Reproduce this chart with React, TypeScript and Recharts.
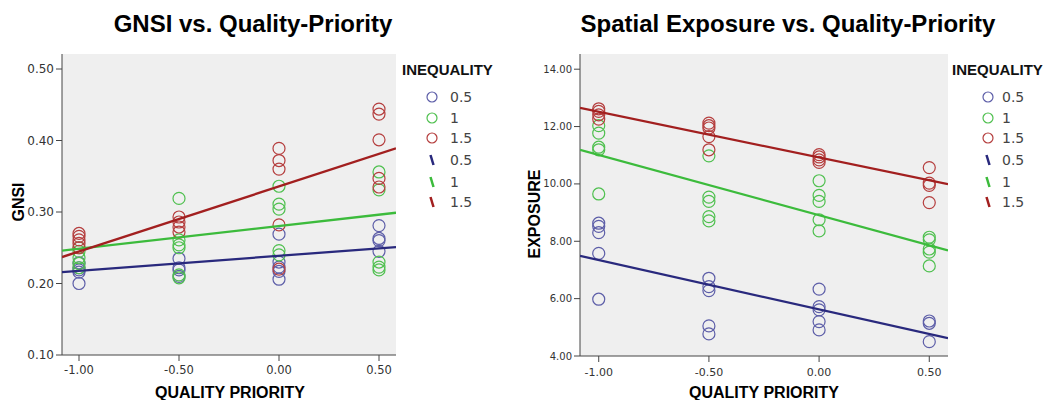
import React from 'react';
import { ScatterChart, Scatter, XAxis, YAxis, CartesianGrid, ReferenceArea } from 'recharts';

// x positions (quality priority levels) and inequality groups
const qualityLevels = [-1, -0.5, 0, 0.5];
const inequalityLabels = ['0.5', '1', '1.5'];
const qualityTicks = [-1, -0.5, 0, 0.5];
const gnsiTicks = [0.1, 0.2, 0.3, 0.4, 0.5];
const exposureTicks = [4, 6, 8, 10, 12, 14];

// GNSI observations, one inner list per quality level
const gnsiLow = [
  [0.229, 0.222, 0.219, 0.216, 0.2],
  [0.235, 0.222, 0.219, 0.21],
  [0.269, 0.23, 0.223, 0.217, 0.206],
  [0.281, 0.263, 0.26, 0.245],
];
const gnsiMid = [
  [0.25, 0.245, 0.236, 0.228, 0.222],
  [0.319, 0.261, 0.254, 0.25, 0.212, 0.208],
  [0.336, 0.311, 0.304, 0.246, 0.24],
  [0.356, 0.331, 0.23, 0.223, 0.219],
];
const gnsiHigh = [
  [0.27, 0.266, 0.261, 0.256, 0.25],
  [0.293, 0.286, 0.279, 0.272],
  [0.389, 0.372, 0.36, 0.282, 0.22],
  [0.444, 0.437, 0.401, 0.347, 0.335],
];

// exposure observations
const exposureLow = [
  [8.63, 8.52, 8.3, 7.58, 5.98],
  [6.71, 6.42, 6.28, 5.05, 4.77],
  [6.33, 5.72, 5.61, 5.2, 4.91],
  [5.22, 5.14, 4.5],
];
const exposureMid = [
  [12.03, 11.77, 11.28, 11.19, 9.65],
  [10.98, 9.54, 9.39, 8.86, 8.71],
  [10.11, 9.6, 9.39, 8.75, 8.36],
  [8.14, 8.05, 7.73, 7.62, 7.14],
];
const exposureHigh = [
  [12.62, 12.53, 12.41, 12.26],
  [12.12, 12.03, 11.95, 11.65, 11.19],
  [11.02, 10.94, 10.84, 10.75],
  [10.57, 10.03, 9.95, 9.35],
];

// fit line end values at the edges of the x range
const fitX = [-1.085, 0.585];
const gnsiFitLow = [0.216, 0.251];
const gnsiFitMid = [0.246, 0.299];
const gnsiFitHigh = [0.237, 0.389];
const exposureFitLow = [7.49, 4.62];
const exposureFitMid = [11.19, 7.68];
const exposureFitHigh = [12.65, 9.99];

const ringColors = ['#5d5ea8', '#4fc04f', '#b53e3e'];
const lineColors = ['#29297d', '#3cbb3c', '#a21f1f'];

const toPoints = (groups: number[][]) =>
  groups.flatMap((ys, i) => ys.map((y) => ({ x: qualityLevels[i], y })));
const toLine = (ys: number[]) => ys.map((y, i) => ({ x: fitX[i], y }));

const ring = (color: string) => (p: any) =>
  <circle cx={p.cx} cy={p.cy} r={6} fill="none" stroke={color} strokeWidth={1.2} />;
const noDot = () => <g />;

interface PanelProps {
  left: number;
  width: number;
  yWidth: number;
  rightMargin: number;
  xAxisHeight: number;
  yDomain: [number, number];
  yTicks: number[];
  yFontSize: number;
  xFontSize: number;
  xTickMargin: number;
  groups: number[][][];
  fits: number[][];
}

const Panel = ({
  left, width, yWidth, rightMargin, xAxisHeight, yDomain, yTicks,
  yFontSize, xFontSize, xTickMargin, groups, fits,
}: PanelProps) => (
  <div style={{ position: 'absolute', left, top: 0 }}>
    <ScatterChart width={width} height={400} margin={{ top: 54, right: rightMargin, bottom: 0, left: 0 }}>
      <CartesianGrid fill="#efefef" horizontal={false} vertical={false} />
      <XAxis
        type="number"
        dataKey="x"
        domain={[fitX[0], fitX[1]]}
        ticks={qualityTicks}
        allowDataOverflow
        height={xAxisHeight}
        tickSize={6}
        tickMargin={xTickMargin}
        tickFormatter={(v: number) => v.toFixed(2)}
        tick={{ fontSize: xFontSize, fill: '#333', fontFamily: 'DejaVu Sans' }}
        stroke="#444"
      />
      <YAxis
        type="number"
        dataKey="y"
        domain={yDomain}
        ticks={yTicks}
        allowDataOverflow
        width={yWidth}
        tickSize={6}
        tickMargin={2}
        tickFormatter={(v: number) => v.toFixed(2)}
        tick={{ fontSize: yFontSize, fill: '#333', fontFamily: 'DejaVu Sans' }}
        stroke="#444"
      />
      <ReferenceArea fill="none" stroke="#555" strokeWidth={1} ifOverflow="visible" />
      {groups.map((g, i) => (
        <Scatter key={'p' + i} data={toPoints(g)} shape={ring(ringColors[i])} isAnimationActive={false} />
      ))}
      {fits.map((f, i) => (
        <Scatter
          key={'l' + i}
          data={toLine(f)}
          line={{ stroke: lineColors[i], strokeWidth: 2.3 }}
          shape={noDot}
          isAnimationActive={false}
        />
      ))}
    </ScatterChart>
  </div>
);

const legendRows = [97, 118, 138, 160, 182, 202];

const Legend = ({ x, ringX, textX }: { x: number; ringX: number; textX: number }) => (
  <g>
    <text x={x} y={75} fontSize={15} fontWeight="bold" fontFamily="Liberation Sans" fill="#111">INEQUALITY</text>
    {inequalityLabels.map((lab, i) => (
      <g key={'r' + i}>
        <circle cx={ringX} cy={legendRows[i]} r={5} fill="none" stroke={ringColors[i]} strokeWidth={1.2} />
        <text x={textX} y={legendRows[i]} dominantBaseline="central" fontSize={14} fontFamily="DejaVu Sans" fill="#444">{lab}</text>
      </g>
    ))}
    {inequalityLabels.map((lab, i) => (
      <g key={'s' + i}>
        <line x1={ringX - 1.5} y1={legendRows[i + 3] - 5} x2={ringX + 1.5} y2={legendRows[i + 3] + 5} stroke={lineColors[i]} strokeWidth={2.5} />
        <text x={textX} y={legendRows[i + 3]} dominantBaseline="central" fontSize={14} fontFamily="DejaVu Sans" fill="#444">{lab}</text>
      </g>
    ))}
  </g>
);

const App = () => (
  <div style={{ position: 'absolute', left: 0, top: 0, width: 1047, height: 400, background: '#fff' }}>
    <Panel
      left={0}
      width={520}
      yWidth={62}
      rightMargin={124}
      xAxisHeight={45}
      yDomain={[0.1, 0.521]}
      yTicks={gnsiTicks}
      yFontSize={12}
      xFontSize={11.5}
      xTickMargin={5}
      groups={[gnsiLow, gnsiMid, gnsiHigh]}
      fits={[gnsiFitLow, gnsiFitMid, gnsiFitHigh]}
    />
    <Panel
      left={520}
      width={527}
      yWidth={60}
      rightMargin={99}
      xAxisHeight={44}
      yDomain={[4, 14.53]}
      yTicks={exposureTicks}
      yFontSize={10}
      xFontSize={11}
      xTickMargin={6}
      groups={[exposureLow, exposureMid, exposureHigh]}
      fits={[exposureFitLow, exposureFitMid, exposureFitHigh]}
    />
    <svg width={1047} height={400} style={{ position: 'absolute', left: 0, top: 0, pointerEvents: 'none' }}>
      <g fontFamily="Liberation Sans" fontWeight="bold" fill="#000">
        <text x={253} y={32} fontSize={24} textAnchor="middle">GNSI vs. Quality-Priority</text>
        <text x={788} y={32} fontSize={24} textAnchor="middle">Spatial Exposure vs. Quality-Priority</text>
        <text x={230} y={398} fontSize={16} textAnchor="middle">QUALITY PRIORITY</text>
        <text x={764} y={398} fontSize={16} textAnchor="middle">QUALITY PRIORITY</text>
        <text x={18} y={202} fontSize={16} textAnchor="middle" dominantBaseline="central" transform="rotate(-90 18 202)">GNSI</text>
        <text x={534} y={214} fontSize={16} textAnchor="middle" dominantBaseline="central" transform="rotate(-90 534 214)">EXPOSURE</text>
      </g>
      <Legend x={402} ringX={432} textX={450} />
      <Legend x={952} ringX={988} textX={1002} />
    </svg>
  </div>
);

export default App;
